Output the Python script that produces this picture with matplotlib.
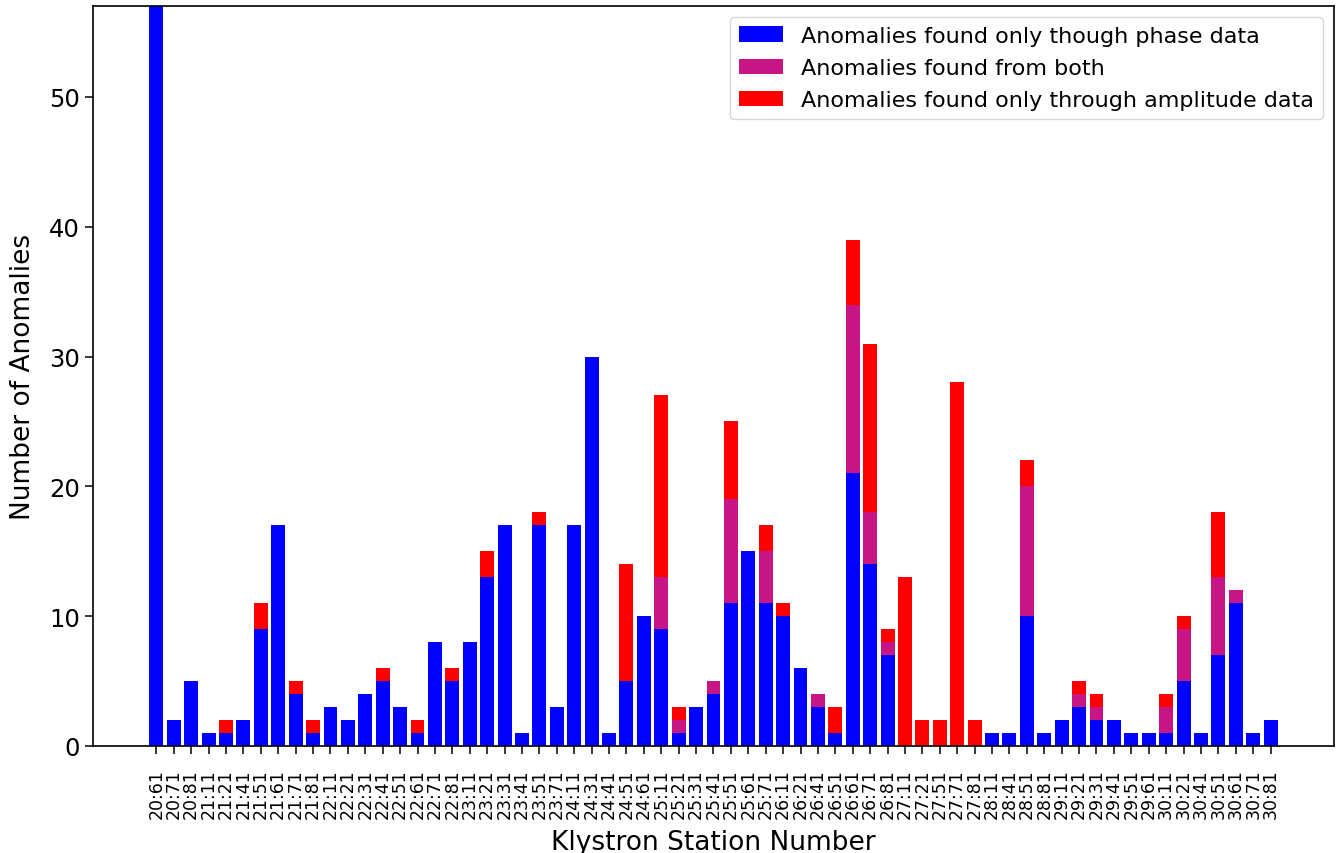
import numpy as np
import matplotlib.pyplot as plt

stations = ['20:61', '20:71', '20:81', '21:11', '21:21', '21:41', '21:51', '21:61',
            '21:71', '21:81', '22:11', '22:21', '22:31', '22:41', '22:51', '22:61',
            '22:71', '22:81', '23:11', '23:21', '23:31', '23:41', '23:51', '23:71',
            '24:11', '24:31', '24:41', '24:51', '24:61', '25:11', '25:21', '25:31',
            '25:41', '25:51', '25:61', '25:71', '26:11', '26:21', '26:41', '26:51',
            '26:61', '26:71', '26:81', '27:11', '27:21', '27:51', '27:71', '27:81',
            '28:11', '28:41', '28:51', '28:81', '29:11', '29:21', '29:31', '29:41',
            '29:51', '29:61', '30:11', '30:21', '30:41', '30:51', '30:61', '30:71',
            '30:81']

# anomalies found only through phase data
phase_only = [57, 2, 5, 1, 1, 2, 9, 17,
              4, 1, 3, 2, 4, 5, 3, 1,
              8, 5, 8, 13, 17, 1, 17, 3,
              17, 30, 1, 5, 10, 9, 1, 3,
              4, 11, 15, 11, 10, 6, 3, 1,
              21, 14, 7, 0, 0, 0, 0, 0,
              1, 1, 10, 1, 2, 3, 2, 2,
              1, 1, 1, 5, 1, 7, 11, 1,
              2]

# anomalies found from both
both = [0, 0, 0, 0, 0, 0, 0, 0,
        0, 0, 0, 0, 0, 0, 0, 0,
        0, 0, 0, 0, 0, 0, 0, 0,
        0, 0, 0, 0, 0, 4, 1, 0,
        1, 8, 0, 4, 0, 0, 1, 0,
        13, 4, 1, 0, 0, 0, 0, 0,
        0, 0, 10, 0, 0, 1, 1, 0,
        0, 0, 2, 4, 0, 6, 1, 0,
        0]

# anomalies found only through amplitude data
amp_only = [0, 0, 0, 0, 1, 0, 2, 0,
            1, 1, 0, 0, 0, 1, 0, 1,
            0, 1, 0, 2, 0, 0, 1, 0,
            0, 0, 0, 9, 0, 14, 1, 0,
            0, 6, 0, 2, 1, 0, 0, 2,
            5, 13, 1, 13, 2, 2, 28, 2,
            0, 0, 2, 0, 0, 1, 1, 0,
            0, 0, 1, 1, 0, 5, 0, 0,
            0]

x = np.arange(len(stations))
phase_only = np.array(phase_only)
both = np.array(both)
amp_only = np.array(amp_only)

fig = plt.figure(figsize=(13.4, 8.54), dpi=100)
ax = fig.add_axes([0.0694, 0.1253, 0.9261, 0.8665])

ax.bar(x, phase_only, color='blue', label='Anomalies found only though phase data')
ax.bar(x, both, bottom=phase_only, color='mediumvioletred',
       label='Anomalies found from both')
ax.bar(x, amp_only, bottom=phase_only + both, color='red',
       label='Anomalies found only through amplitude data')

ax.set_ylim(0, 57)
ax.set_xticks(x)
ax.set_xticklabels(stations, rotation=90, fontsize=12.5)
ax.tick_params(axis='x', pad=10, length=6, width=1.1)
ax.tick_params(axis='y', labelsize=17.5, length=6, width=1.1)
for s in ax.spines.values():
    s.set_linewidth(1.2)

ax.set_xlabel('Klystron Station Number', fontsize=19, labelpad=8)
ax.set_ylabel('Number of Anomalies', fontsize=19, labelpad=9)
ax.legend(loc='upper right', fontsize=16, labelspacing=0.55)

fig.savefig('out.png')
